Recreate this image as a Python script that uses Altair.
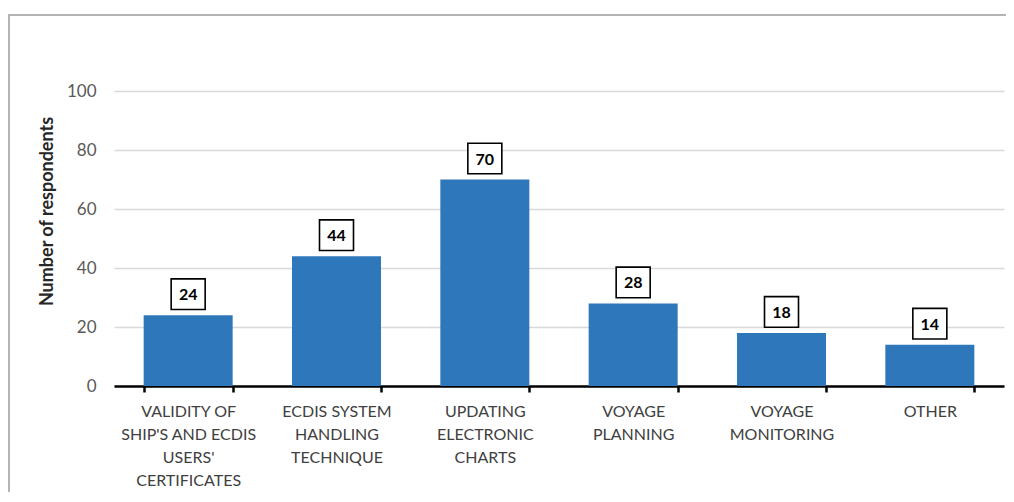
import altair as alt
import pandas as pd

categories = [
    "VALIDITY OF|SHIP'S AND ECDIS|USERS'|CERTIFICATES",
    "ECDIS SYSTEM|HANDLING|TECHNIQUE",
    "UPDATING|ELECTRONIC|CHARTS",
    "VOYAGE|PLANNING",
    "VOYAGE|MONITORING",
    "OTHER",
]
values = [24, 44, 70, 28, 18, 14]
y_ticks = [0, 20, 40, 60, 80, 100]

df = pd.DataFrame({"cat": categories, "val": values})

FONT = "Lato"
x_enc = alt.X(
    "cat:N",
    sort=categories,
    title=None,
    scale=alt.Scale(paddingInner=0.4, paddingOuter=0.2),
    axis=alt.Axis(
        labelExpr="split(datum.label, '|')",
        labelAngle=0,
        labelFont=FONT,
        labelFontSize=16,
        labelColor="#404040",
        labelLineHeight=23,
        labelPadding=11,
        labelBaseline="top",
        domainColor="#000000",
        domainWidth=2.5,
        tickColor="#000000",
        tickWidth=2.5,
        tickSize=6,
        tickBand="extent",
        grid=False,
    ),
)

y_enc = alt.Y(
    "val:Q",
    title="Number of respondents",
    scale=alt.Scale(domain=[0, 100], nice=False),
    axis=alt.Axis(
        values=y_ticks,
        domain=False,
        ticks=False,
        labelFont=FONT,
        labelFontSize=17,
        labelColor="#595959",
        labelPadding=18,
        gridColor="#d9d9d9",
        gridWidth=1.5,
        titleFont=FONT,
        titleFontSize=18,
        titleFontWeight="bold",
        titleColor="#262626",
        titleX=-67,
        titleY=120,
        titleAngle=-90,
        titleAlign="center",
        titleBaseline="middle",
    ),
)

bars = alt.Chart(df).mark_bar(color="#2F77BB").encode(x=x_enc, y=y_enc)

boxes = alt.Chart(df).mark_point(
    shape="M-1,-0.9L1,-0.9L1,0.9L-1,0.9Z",
    size=1156,
    filled=False,
    fill="#ffffff",
    fillOpacity=1,
    stroke="#000000",
    strokeWidth=1.6,
    opacity=1,
    yOffset=-21,
).encode(x=alt.X("cat:N", sort=categories), y="val:Q")

labels = alt.Chart(df).mark_text(
    font=FONT,
    fontSize=16,
    fontWeight="bold",
    color="#000000",
    baseline="middle",
    align="center",
    yOffset=-20,
).encode(x=alt.X("cat:N", sort=categories), y="val:Q", text="val:Q")

frame_top = alt.Chart(df).mark_rule(color="#b4b4b4", strokeWidth=2).encode(
    x=alt.value(-106), x2=alt.value(900), y=alt.value(-76)
)
frame_left = alt.Chart(df).mark_rule(color="#b4b4b4", strokeWidth=2).encode(
    x=alt.value(-105), y=alt.value(-76), y2=alt.value(420)
)

chart = (
    alt.layer(frame_top, frame_left, bars, boxes, labels)
    .properties(
        width=890,
        height=295,
        background="#ffffff",
        autosize=alt.AutoSizeParams(type="none"),
        padding={"left": 106, "top": 83, "right": 2, "bottom": 106},
    )
    .configure_view(stroke="transparent", strokeWidth=0)
)

chart.save("out.html", embed_options={"renderer": "svg", "actions": False})
